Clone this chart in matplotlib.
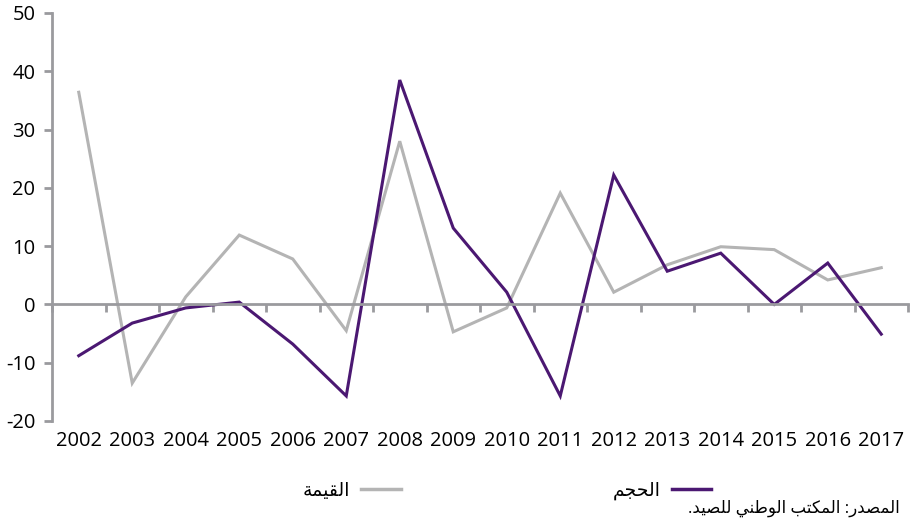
import matplotlib.pyplot as plt
from matplotlib.lines import Line2D
import numpy as np

plt.rcParams['font.family'] = ['Open Sans', 'DejaVu Sans']
plt.rcParams['axes.unicode_minus'] = False

years = [str(y) for y in range(2002, 2018)]
volume = [-8.8, -3.2, -0.6, 0.4, -6.8, -15.7, 38.5, 13.1, 2.1, -15.7, 22.2, 5.7, 8.8, 0.0, 7.1, -5.1]
value = [36.4, -13.5, 1.3, 11.9, 7.8, -4.5, 28.0, -4.7, -0.6, 19.1, 2.1, 6.8, 9.9, 9.4, 4.2, 6.3]

label_volume = "الحجم"
label_value = "القيمة"
source = "المصدر: المكتب الوطني للصيد."

# matplotlib has no arabic shaping, so map letters to presentation forms by hand
# (isolated, final, initial, medial); None = letter does not join to the next one
FORMS = {
    'ا': ('\uFE8D', '\uFE8E', None, None),
    'ب': ('\uFE8F', '\uFE90', '\uFE91', '\uFE92'),
    'ة': ('\uFE93', '\uFE94', None, None),
    'ت': ('\uFE95', '\uFE96', '\uFE97', '\uFE98'),
    'ج': ('\uFE9D', '\uFE9E', '\uFE9F', '\uFEA0'),
    'ح': ('\uFEA1', '\uFEA2', '\uFEA3', '\uFEA4'),
    'د': ('\uFEA9', '\uFEAA', None, None),
    'ر': ('\uFEAD', '\uFEAE', None, None),
    'ص': ('\uFEB9', '\uFEBA', '\uFEBB', '\uFEBC'),
    'ط': ('\uFEC1', '\uFEC2', '\uFEC3', '\uFEC4'),
    'ق': ('\uFED5', '\uFED6', '\uFED7', '\uFED8'),
    'ك': ('\uFED9', '\uFEDA', '\uFEDB', '\uFEDC'),
    'ل': ('\uFEDD', '\uFEDE', '\uFEDF', '\uFEE0'),
    'م': ('\uFEE1', '\uFEE2', '\uFEE3', '\uFEE4'),
    'ن': ('\uFEE5', '\uFEE6', '\uFEE7', '\uFEE8'),
    'و': ('\uFEED', '\uFEEE', None, None),
    'ي': ('\uFEF1', '\uFEF2', '\uFEF3', '\uFEF4'),
}


def shape(s):
    out = []
    for i, c in enumerate(s):
        if c not in FORMS:
            out.append(c)
            continue
        prev = s[i - 1] if i > 0 else ''
        nxt = s[i + 1] if i + 1 < len(s) else ''
        jp = prev in FORMS and FORMS[prev][2] is not None
        jn = FORMS[c][2] is not None and nxt in FORMS
        f = FORMS[c]
        if jp and jn:
            out.append(f[3])
        elif jp:
            out.append(f[1])
        elif jn:
            out.append(f[2])
        else:
            out.append(f[0])
    return ''.join(out)[::-1]


purple = '#4b1872'
grey = '#b4b4b4'
axis_grey = '#9a9a9e'

fig = plt.figure(figsize=(9.15, 5.19), dpi=100)
ax = fig.add_axes([52 / 915, 1 - 421 / 519, 856 / 915, 408 / 519])

x = np.arange(len(years))
ax.plot(x, value, color=grey, lw=2.2, solid_joinstyle='miter')
ax.plot(x, volume, color=purple, lw=2.2, solid_joinstyle='miter')

ax.set_xlim(-0.5, len(years) - 0.5)
ax.set_ylim(-20, 50)
ax.set_yticks(range(-20, 51, 10))

for s in ['top', 'right']:
    ax.spines[s].set_visible(False)
ax.spines['left'].set_color(axis_grey)
ax.spines['left'].set_linewidth(2)
ax.spines['bottom'].set_position(('data', 0))
ax.spines['bottom'].set_color(axis_grey)
ax.spines['bottom'].set_linewidth(2)

ax.set_xticks(np.arange(-0.5, len(years), 1.0))
ax.set_xticklabels([])
ax.tick_params(axis='x', direction='out', length=6, width=2, color=axis_grey)
ax.tick_params(axis='y', direction='out', length=6, width=2, color=axis_grey,
               labelsize=14.5, pad=6)

sec = ax.secondary_xaxis(0)
sec.set_xticks(x)
sec.set_xticklabels(years)
sec.spines['bottom'].set_visible(False)
sec.tick_params(length=0, labelsize=14.5, pad=7)

handles = [Line2D([], [], color=grey, lw=2.5), Line2D([], [], color=purple, lw=2.5)]
fig.legend(handles, [shape(label_value), shape(label_volume)], ncol=2, frameon=False,
           markerfirst=False, loc='center', bbox_to_anchor=(507 / 915, 1 - 491 / 519),
           fontsize=13.5, handlelength=2.1, columnspacing=11.3, handletextpad=0.6)

fig.text(900 / 915, 1 - 508 / 519, shape(source), ha='right', va='center', fontsize=12)

fig.savefig('out.png', dpi=100)
